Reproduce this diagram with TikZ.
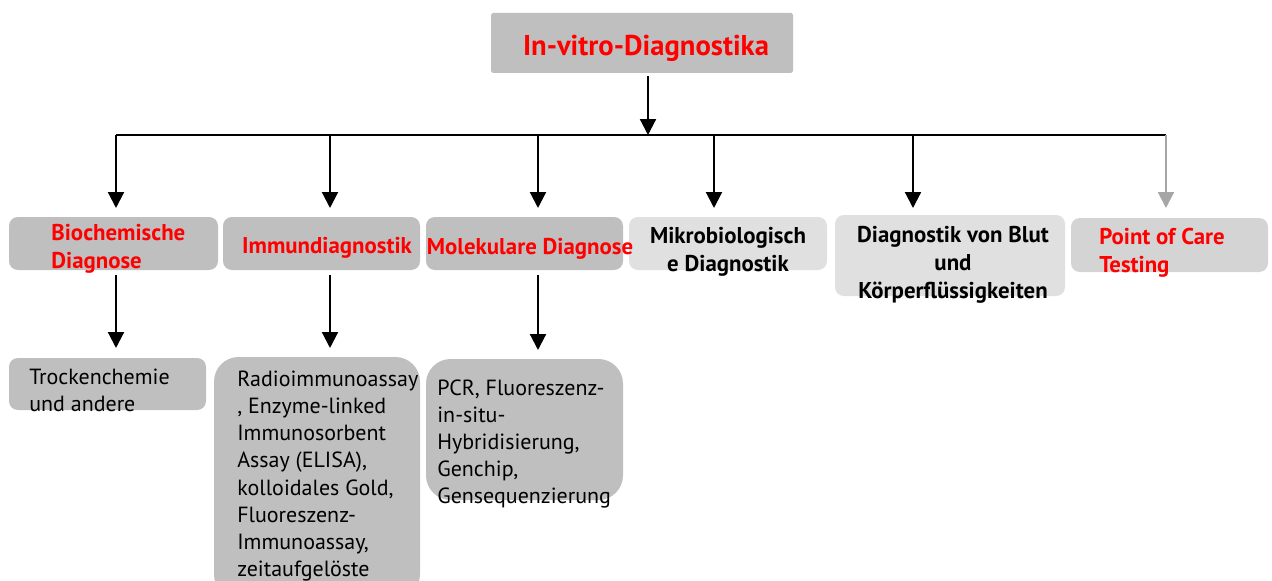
\documentclass[tikz,border=0pt]{standalone}
\usepackage{fontspec}
\setmainfont{PT Sans}
\usetikzlibrary{arrows.meta,positioning}
\definecolor{dg}{HTML}{BFBFBF}\definecolor{lg}{HTML}{E0E0E0}\definecolor{mg}{HTML}{D4D4D4}
\definecolor{ag}{HTML}{A6A6A6}\definecolor{rt}{HTML}{FF0000}
\tikzset{bx/.style={fill=dg,rounded corners=5pt,inner sep=0pt},
 rb/.style={fill=dg,rounded corners=14pt,inner sep=0pt},
 hd/.style={font=\fontsize{13}{15.9}\selectfont\bfseries,text=rt,align=left,inner sep=0pt},
 kh/.style={font=\fontsize{13}{15.9}\selectfont\bfseries,align=center,inner sep=0pt},
 tx/.style={font=\fontsize{12.5}{15.5}\selectfont,align=left,inner sep=0pt,anchor=west},
 ar/.style={line width=1.2pt,-{Triangle[width=9pt,length=9pt]}}}
\begin{document}
\begin{tikzpicture}[x=0.02cm,y=-0.02cm]
\useasboundingbox (0,0) rectangle (1272,581);\clip (0,0) rectangle (1272,581);
% top
\node[fill=dg,rounded corners=1pt,minimum width=302*0.02cm,minimum height=60*0.02cm](top)at(642,43){};
\node[font=\fontsize{16.3}{18}\selectfont\bfseries,text=rt,inner sep=0pt](topt)at(646,48){In-vitro-Diagnostika};
\coordinate(m)at(648,135);\coordinate(l)at(116,135);\coordinate(r)at(1166,135);
\draw[ar](648,76)--(m);\draw[line width=1.2pt](l)--(r);
% second row
\node[bx,minimum width=209*0.02cm,minimum height=53*0.02cm](b1)at(113.5,243.5){};
\node[bx,minimum width=197*0.02cm,minimum height=53*0.02cm](b2)at(321.5,243.5){};
\node[bx,minimum width=197*0.02cm,minimum height=53*0.02cm](b3)at(524.5,243.5){};
\node[bx,fill=lg,minimum width=198*0.02cm,minimum height=53*0.02cm](b4)at(728,243.5){};
\node[bx,fill=lg,minimum width=230*0.02cm,minimum height=81*0.02cm](b5)at(950,255.5){};
\node[bx,fill=mg,minimum width=197*0.02cm,minimum height=54*0.02cm](b6)at(1169.5,245){};
\node[hd,anchor=west](t1)at(51,249){Biochemische\\Diagnose};
\node[hd](t2)at(327,248){Immundiagnostik};
\node[hd](t3)at(530,249){Molekulare Diagnose};
\node[kh](t4)at(728,252){Mikrobiologisch\\e Diagnostik};
\node[kh](t5)at(953,265){Diagnostik von Blut\\und\\Körperflüssigkeiten};
\node[hd,anchor=west](t6)at(1099,253){Point of Care\\Testing};
\foreach \x/\n in {116/b1,330/b2,538/b3,714/b4,913/b5}{\draw[ar](\x,135)--(\x,208);}
\draw[ar,ag](1166,135)--(1166,208);
% third row
\node[bx,minimum width=197*0.02cm,minimum height=52*0.02cm](c1)at(107.5,384){};
\node[rb,minimum width=206*0.02cm,minimum height=242*0.02cm](c2)at(317,478){};
\node[rb,minimum width=197*0.02cm,minimum height=141*0.02cm](c3)at(524.5,429.5){};
\node[tx](s1)at(29,390){Trockenchemie\\und andere};
\node[tx](s2)at(237,476){Radioimmunoassay\\, Enzyme-linked\\Immunosorbent\\Assay (ELISA),\\kolloidales Gold,\\Fluoreszenz-\\Immunoassay,\\zeitaufgelöste};
\node[tx](s3)at(437,444){PCR, Fluoreszenz-\\in-situ-\\Hybridisierung,\\Genchip,\\Gensequenzierung};
\draw[ar](116,275)--(116,348);\draw[ar](330,275)--(330,348);\draw[ar](538,275)--(538,350);
\end{tikzpicture}
\end{document}
